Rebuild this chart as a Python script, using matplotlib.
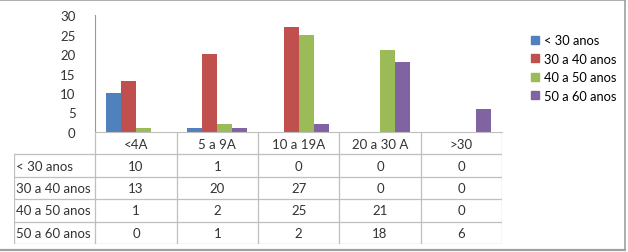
import matplotlib.pyplot as plt
from matplotlib.lines import Line2D

plt.rcParams['font.family'] = ['Lato', 'DejaVu Sans']

categories = ["<4A", "5 a 9A", "10 a 19A", "20 a 30 A", ">30"]
series_names = ["< 30 anos", "30 a 40 anos", "40 a 50 anos", "50 a 60 anos"]
menos_30 = [10, 1, 0, 0, 0]
de_30_40 = [13, 20, 27, 0, 0]
de_40_50 = [1, 2, 25, 21, 0]
de_50_60 = [0, 1, 2, 18, 6]
colors = ["#4F81BD", "#C0504D", "#9BBB59", "#8064A2"]

values = [menos_30, de_30_40, de_40_50, de_50_60]

W, H = 628, 253
fig = plt.figure(figsize=(6.28, 2.53), dpi=100)

# chart area
ax = fig.add_axes([95 / W, (H - 133) / H, (502 - 95) / W, (133 - 16) / H])
bw = 15 / 81.4
for k, (name, vals, c) in enumerate(zip(series_names, values, colors)):
    xs = [i + 0.5 + (k - 1.5) * bw for i in range(len(categories))]
    ax.bar(xs, vals, width=bw, color=c, label=name)

ax.set_xlim(0, len(categories))
ax.set_ylim(0, 30)
ax.set_yticks(range(0, 31, 5))
ax.set_xticks([])
ax.tick_params(axis='y', length=0, pad=14, labelsize=9.5, colors='#333333')
for s in ['top', 'right']:
    ax.spines[s].set_visible(False)
ax.spines['left'].set_color('#9a9a9a')
ax.spines['bottom'].set_color('#bfbfbf')
ax.patch.set_alpha(0)

# data table
tb = fig.add_axes([14 / W, (H - 245) / H, (502 - 14) / W, (245 - 133) / H])
tb.set_xlim(-1, len(categories))
tb.set_ylim(5, 0)
tb.axis('off')
lc = '#bfbfbf'
for i in range(len(categories) + 1):
    tb.plot([i, i], [0, 5], color=lc, lw=0.9)
tb.plot([-1, -1], [1, 5], color=lc, lw=0.9)
for r in range(1, 6):
    tb.plot([-1, len(categories)], [r, r], color=lc, lw=0.9)

for i, cat in enumerate(categories):
    tb.text(i + 0.5, 0.55, cat, ha='center', va='center', fontsize=9.5, color='#333333')
for r, (name, vals) in enumerate(zip(series_names, values)):
    tb.text(-0.97, r + 1.5, name, ha='left', va='center', fontsize=9.5, color='#333333')
    for i, v in enumerate(vals):
        tb.text(i + 0.5, r + 1.5, str(v), ha='center', va='center', fontsize=9.5, color='#333333')

# legend
handles = [Line2D([], [], marker='s', markersize=5.2, linestyle='', color=c) for c in colors]
fig.legend(handles, series_names, loc='upper left', bbox_to_anchor=(525 / W, 1 - 30 / H),
           frameon=False, fontsize=9.3, handlelength=0.7, markerscale=1,
           handletextpad=0.35, labelspacing=0.5, borderaxespad=0)

# outer frame
fc = '#a0a0a0'
fig.add_artist(Line2D([0, 625 / W], [1 - 1 / H, 1 - 1 / H], color=fc, lw=1.2))
fig.add_artist(Line2D([625 / W, 625 / W], [1 - 1 / H, 1 - 251 / H], color=fc, lw=1.2))
fig.add_artist(Line2D([0, 625 / W], [1 - 251 / H, 1 - 251 / H], color=fc, lw=1.6))

fig.savefig('out.png', dpi=100)
